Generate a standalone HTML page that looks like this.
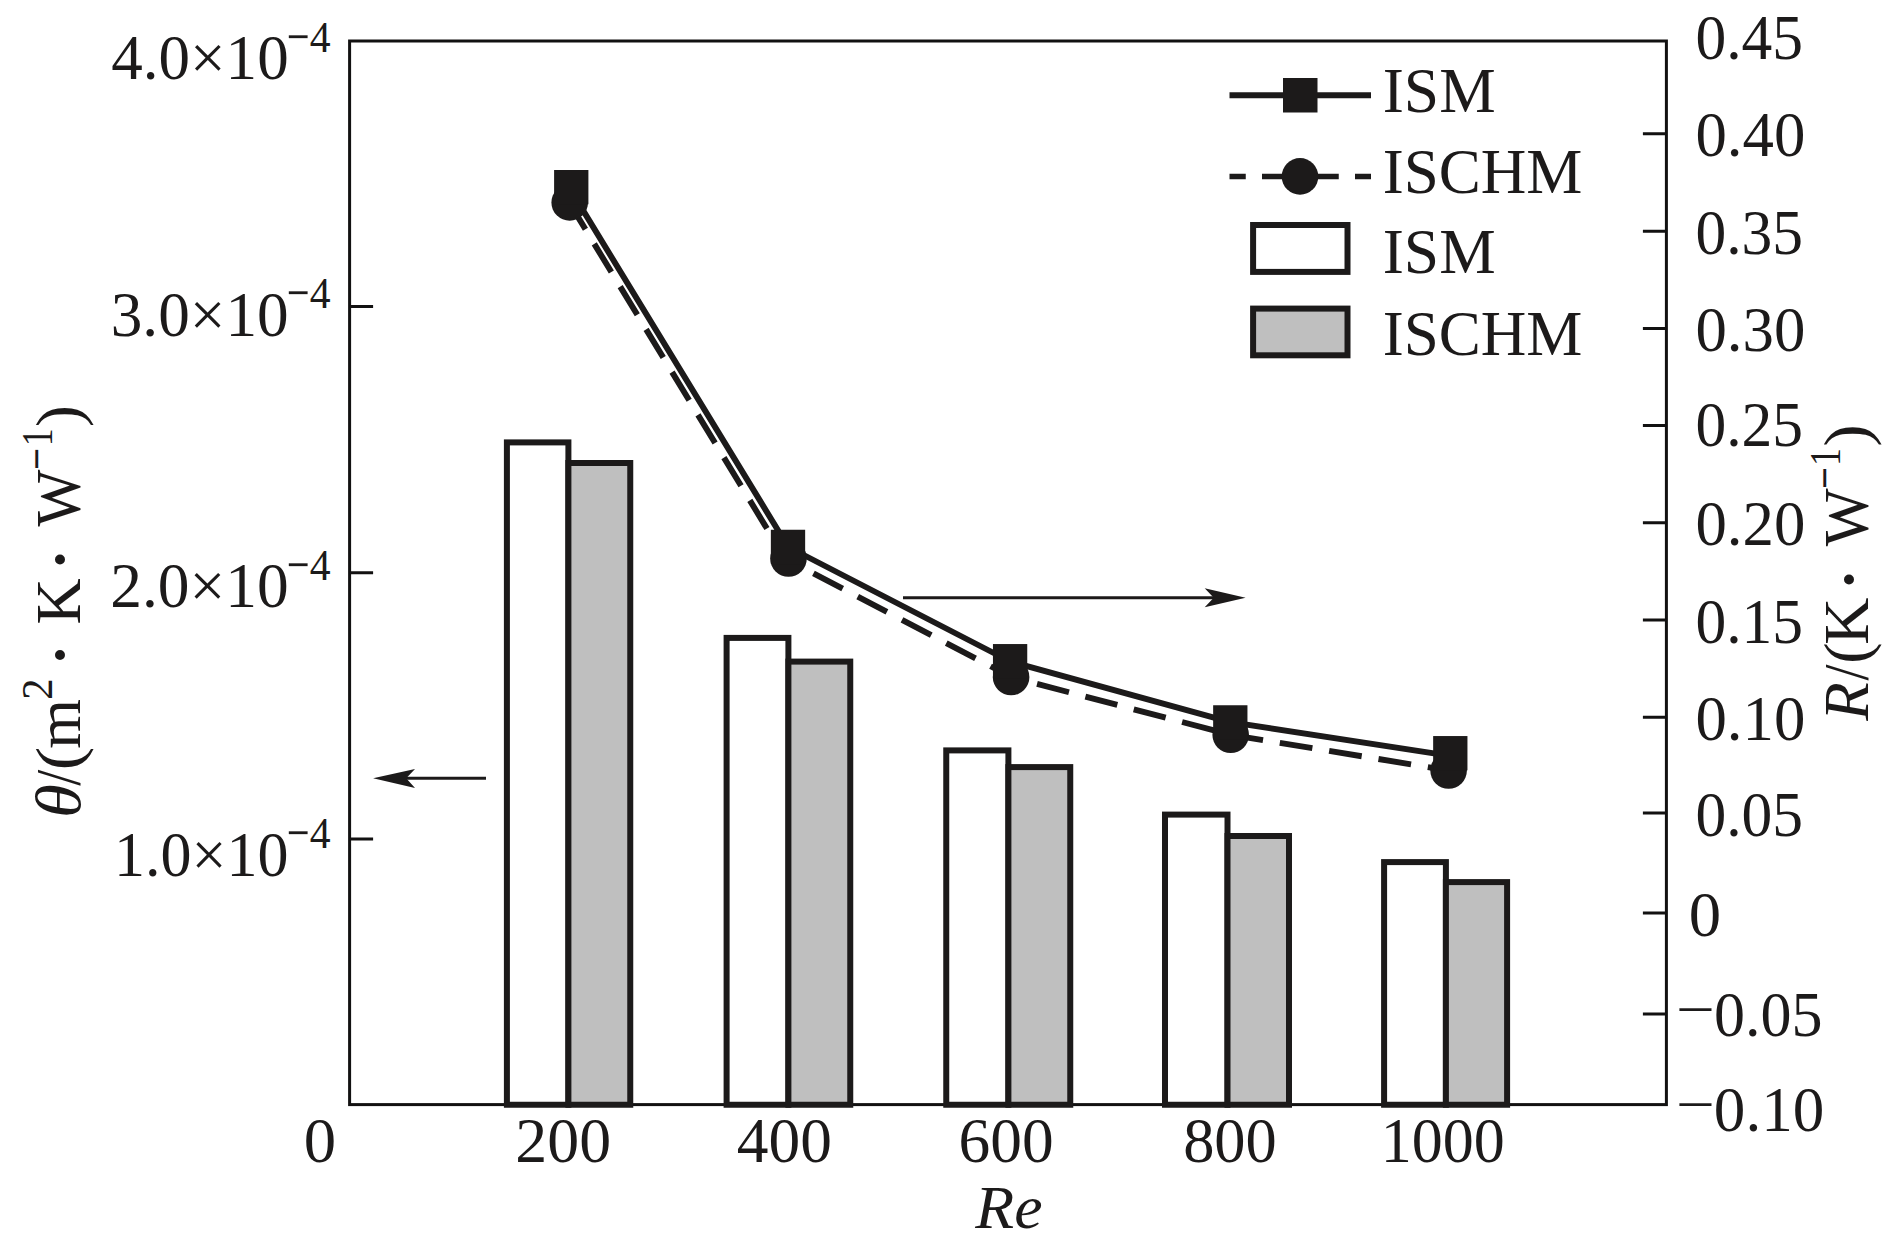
<!DOCTYPE html>
<html lang="en">
<head>
<meta charset="utf-8">
<title>Thermal resistance versus Re</title>
<style>
html,body{margin:0;padding:0;background:#ffffff;}
body{width:1888px;height:1248px;overflow:hidden;}
svg{display:block;}
text{white-space:pre;}
</style>
</head>
<body>
<svg width="1888" height="1248" viewBox="0 0 1888 1248">
<rect width="1888" height="1248" fill="#ffffff"/>
<g fill="none" stroke="#121111" stroke-width="3">
<rect x="349.6" y="41.0" width="1316.80" height="1063.60"/>
<path d="M349.6 306.5H373.1M349.6 572.7H373.1M349.6 839.1H373.1M1666.4 133.65H1642.9M1666.4 231.2H1642.9M1666.4 328.4H1642.9M1666.4 425.5H1642.9M1666.4 522.7H1642.9M1666.4 620.1H1642.9M1666.4 717.2H1642.9M1666.4 813.0H1642.9M1666.4 913.1H1642.9M1666.4 1013.9H1642.9"/>
</g>
<g stroke="#1c1a1a" stroke-width="6" stroke-linejoin="miter">
<rect x="506.9" y="442.4" width="61.50" height="662.35" fill="#ffffff"/>
<rect x="568.4" y="463.0" width="61.85" height="641.75" fill="#bfbfbf"/>
<rect x="726.6" y="637.9" width="61.80" height="466.85" fill="#ffffff"/>
<rect x="788.4" y="661.6" width="61.85" height="443.15" fill="#bfbfbf"/>
<rect x="946.25" y="750.4" width="62.15" height="354.35" fill="#ffffff"/>
<rect x="1008.4" y="767.1" width="61.85" height="337.65" fill="#bfbfbf"/>
<rect x="1165.0" y="814.6" width="62.50" height="290.15" fill="#ffffff"/>
<rect x="1227.5" y="836.0" width="61.50" height="268.75" fill="#bfbfbf"/>
<rect x="1384.1" y="862.1" width="61.80" height="242.65" fill="#ffffff"/>
<rect x="1445.9" y="882.1" width="61.20" height="222.65" fill="#bfbfbf"/>
</g>
<g stroke="#1c1a1a" stroke-width="2.9" fill="#1c1a1a">
<path d="M903 597.7H1215" fill="none"/>
<path d="M1245.6 597.7L1204.7 588.3L1213.7 597.7L1204.7 607.3Z" stroke="none"/>
<path d="M486 778.3H405" fill="none"/>
<path d="M373.1 778.3L415 768.9L406.2 778.3L415 787.9Z" stroke="none"/>
</g>
<polyline points="569.1,202.4 785.1,558.5 1011.1,677.0 1230.7,734.8 1448.6,770.5" fill="none" stroke="#1c1a1a" stroke-width="5.9" stroke-dasharray="33 17" stroke-dashoffset="1.5"/>
<polyline points="568.9,187.15 788.2,547.0 1010.2,661.5 1230.3,722.2 1450.3,755.8" fill="none" stroke="#1c1a1a" stroke-width="5.9" stroke-linejoin="round"/>
<g fill="#1c1a1a">
<circle cx="569.7" cy="202.4" r="18.3"/>
<circle cx="788.5" cy="558.5" r="18.3"/>
<circle cx="1011.1" cy="677.0" r="18.3"/>
<circle cx="1230.7" cy="734.8" r="18.3"/>
<circle cx="1448.6" cy="770.5" r="18.3"/>
<rect x="554.10" y="170.00" width="34.3" height="34.3"/>
<rect x="770.85" y="529.75" width="34.3" height="34.3"/>
<rect x="992.95" y="644.05" width="34.3" height="34.3"/>
<rect x="1213.15" y="705.25" width="34.3" height="34.3"/>
<rect x="1433.15" y="736.05" width="34.3" height="34.3"/>
</g>
<g stroke="#1c1a1a" fill="none">
<path d="M1229.5 95.3H1371" stroke-width="6"/>
<path d="M1229.5 176.5H1245.75M1262 176.5H1338.75M1355 176.5H1371" stroke-width="5.6"/>
<rect x="1253.1" y="225.0" width="94.4" height="46.9" stroke-width="6" fill="#ffffff"/>
<rect x="1253.1" y="308.6" width="94.4" height="46.7" stroke-width="6" fill="#bfbfbf"/>
</g>
<rect x="1283" y="78" width="34.5" height="34.5" fill="#1c1a1a"/>
<circle cx="1300" cy="176.4" r="18.3" fill="#1c1a1a"/>
<g fill="#1c1a1a" font-family="'Liberation Serif', serif">
<text x="1382.73" y="112.00" font-size="63" textLength="112.94" lengthAdjust="spacingAndGlyphs">ISM</text>
<text x="1382.75" y="192.50" font-size="63" textLength="199.68" lengthAdjust="spacingAndGlyphs">ISCHM</text>
<text x="1382.73" y="273.00" font-size="63" textLength="112.94" lengthAdjust="spacingAndGlyphs">ISM</text>
<text x="1382.75" y="355.00" font-size="63" textLength="199.68" lengthAdjust="spacingAndGlyphs">ISCHM</text>
<text x="111.25" y="79.40" font-size="63" textLength="177.41" lengthAdjust="spacingAndGlyphs">4.0×10</text>
<text x="286.73" y="56.26" font-size="57.4" textLength="22.79" lengthAdjust="spacingAndGlyphs">−</text>
<text x="309.76" y="51.90" font-size="43.5" textLength="20.84" lengthAdjust="spacingAndGlyphs">4</text>
<text x="110.74" y="335.60" font-size="63" textLength="177.92" lengthAdjust="spacingAndGlyphs">3.0×10</text>
<text x="286.73" y="312.46" font-size="57.4" textLength="22.79" lengthAdjust="spacingAndGlyphs">−</text>
<text x="309.76" y="308.10" font-size="43.5" textLength="20.84" lengthAdjust="spacingAndGlyphs">4</text>
<text x="110.23" y="607.00" font-size="63" textLength="178.44" lengthAdjust="spacingAndGlyphs">2.0×10</text>
<text x="286.73" y="583.86" font-size="57.4" textLength="22.79" lengthAdjust="spacingAndGlyphs">−</text>
<text x="309.76" y="579.50" font-size="43.5" textLength="20.84" lengthAdjust="spacingAndGlyphs">4</text>
<text x="114.09" y="875.50" font-size="63" textLength="174.53" lengthAdjust="spacingAndGlyphs">1.0×10</text>
<text x="286.73" y="852.36" font-size="57.4" textLength="22.79" lengthAdjust="spacingAndGlyphs">−</text>
<text x="309.76" y="848.00" font-size="43.5" textLength="20.84" lengthAdjust="spacingAndGlyphs">4</text>
<text x="1695.48" y="59.00" font-size="63" textLength="107.66" lengthAdjust="spacingAndGlyphs">0.45</text>
<text x="1695.43" y="156.40" font-size="63" textLength="109.94" lengthAdjust="spacingAndGlyphs">0.40</text>
<text x="1695.48" y="254.00" font-size="63" textLength="107.66" lengthAdjust="spacingAndGlyphs">0.35</text>
<text x="1695.43" y="350.75" font-size="63" textLength="109.94" lengthAdjust="spacingAndGlyphs">0.30</text>
<text x="1695.48" y="446.25" font-size="63" textLength="107.66" lengthAdjust="spacingAndGlyphs">0.25</text>
<text x="1695.43" y="545.00" font-size="63" textLength="109.94" lengthAdjust="spacingAndGlyphs">0.20</text>
<text x="1695.48" y="642.50" font-size="63" textLength="107.66" lengthAdjust="spacingAndGlyphs">0.15</text>
<text x="1695.43" y="740.00" font-size="63" textLength="109.94" lengthAdjust="spacingAndGlyphs">0.10</text>
<text x="1695.48" y="836.25" font-size="63" textLength="107.66" lengthAdjust="spacingAndGlyphs">0.05</text>
<text x="1688.81" y="935.50" font-size="63" textLength="32.38" lengthAdjust="spacingAndGlyphs">0</text>
<text x="1713.91" y="1036.25" font-size="63" textLength="108.55" lengthAdjust="spacingAndGlyphs">0.05</text>
<text x="1675.67" y="1028.33" font-size="55.4" textLength="38.93" lengthAdjust="spacingAndGlyphs">−</text>
<text x="1713.87" y="1131.25" font-size="63" textLength="110.51" lengthAdjust="spacingAndGlyphs">0.10</text>
<text x="1675.67" y="1123.33" font-size="55.4" textLength="38.93" lengthAdjust="spacingAndGlyphs">−</text>
<text x="303.81" y="1162.20" font-size="63" textLength="32.38" lengthAdjust="spacingAndGlyphs">0</text>
<text x="515.31" y="1162.20" font-size="63" textLength="95.80" lengthAdjust="spacingAndGlyphs">200</text>
<text x="736.74" y="1162.20" font-size="63" textLength="95.15" lengthAdjust="spacingAndGlyphs">400</text>
<text x="958.48" y="1162.20" font-size="63" textLength="95.16" lengthAdjust="spacingAndGlyphs">600</text>
<text x="1183.14" y="1162.20" font-size="63" textLength="93.71" lengthAdjust="spacingAndGlyphs">800</text>
<text x="1380.84" y="1162.20" font-size="63" textLength="124.00" lengthAdjust="spacingAndGlyphs">1000</text>
<text x="975.39" y="1228.00" font-size="61" font-style="italic" textLength="67.25" lengthAdjust="spacingAndGlyphs">Re</text>
<g transform="translate(79.8 814.6) rotate(-90)">
<text x="-3.41" y="0.00" font-size="63" font-style="italic" textLength="33.79" lengthAdjust="spacingAndGlyphs">θ</text>
<text x="28.80" y="0.00" font-size="63" textLength="16.10" lengthAdjust="spacingAndGlyphs">/</text>
<text x="44.19" y="0.00" font-size="63" textLength="23.76" lengthAdjust="spacingAndGlyphs">(</text>
<text x="65.91" y="0.00" font-size="63" textLength="49.71" lengthAdjust="spacingAndGlyphs">m</text>
<text x="114.86" y="-27.60" font-size="43.5" textLength="21.38" lengthAdjust="spacingAndGlyphs">2</text>
<text x="145.60" y="8.61" font-size="84">·</text>
<text x="190.19" y="0.00" font-size="63" textLength="46.24" lengthAdjust="spacingAndGlyphs">K</text>
<text x="241.00" y="8.61" font-size="84">·</text>
<text x="288.00" y="0.00" font-size="63" textLength="56.98" lengthAdjust="spacingAndGlyphs">W</text>
<text x="344.55" y="-23.74" font-size="57.4" textLength="22.00" lengthAdjust="spacingAndGlyphs">−</text>
<text x="368.47" y="-27.60" font-size="43.5" textLength="17.83" lengthAdjust="spacingAndGlyphs">1</text>
<text x="387.62" y="0.00" font-size="63" textLength="21.82" lengthAdjust="spacingAndGlyphs">)</text>
</g>
<g transform="translate(1868.0 721.0) rotate(-90)">
<text x="0.37" y="0.00" font-size="63" font-style="italic" textLength="38.43" lengthAdjust="spacingAndGlyphs">R</text>
<text x="40.60" y="0.00" font-size="63" textLength="15.90" lengthAdjust="spacingAndGlyphs">/</text>
<text x="57.19" y="0.00" font-size="63" textLength="21.43" lengthAdjust="spacingAndGlyphs">(</text>
<text x="76.05" y="0.00" font-size="63" textLength="47.40" lengthAdjust="spacingAndGlyphs">K</text>
<text x="127.50" y="8.51" font-size="84">·</text>
<text x="174.70" y="0.00" font-size="63" textLength="57.79" lengthAdjust="spacingAndGlyphs">W</text>
<text x="232.06" y="-24.44" font-size="57.4" textLength="21.88" lengthAdjust="spacingAndGlyphs">−</text>
<text x="255.07" y="-28.10" font-size="43.5" textLength="17.83" lengthAdjust="spacingAndGlyphs">1</text>
<text x="274.27" y="0.00" font-size="63" textLength="22.34" lengthAdjust="spacingAndGlyphs">)</text>
</g>
</g>
</svg>
</body>
</html>
